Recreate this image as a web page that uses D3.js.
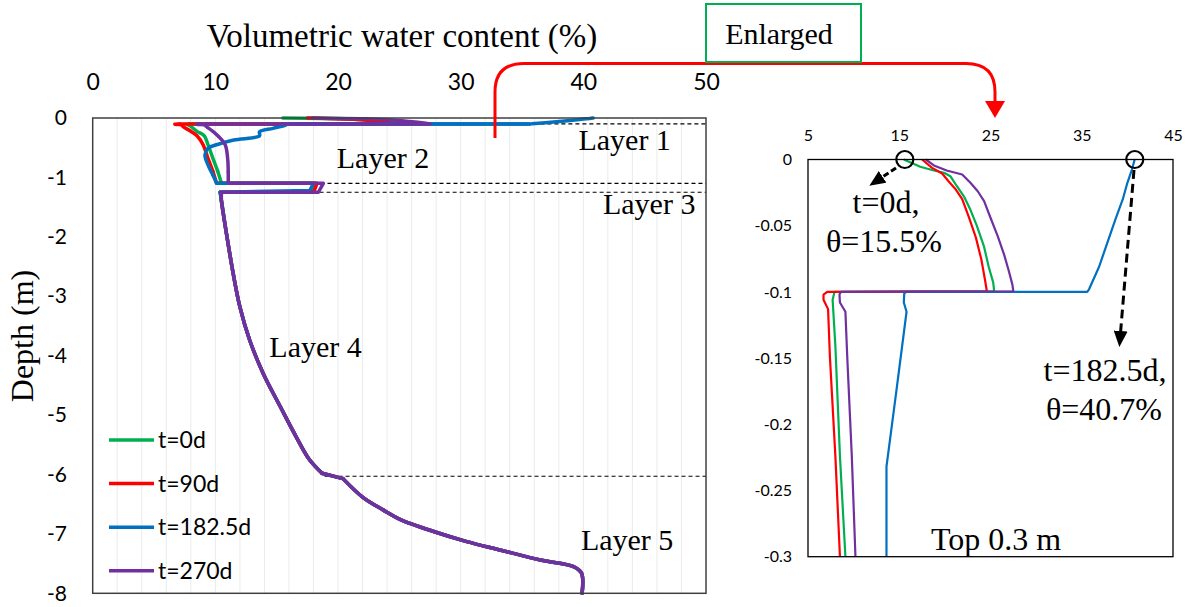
<!DOCTYPE html>
<html><head><meta charset="utf-8">
<script src="https://cdn.jsdelivr.net/npm/d3@7"></script>
<style>body{margin:0;background:#fff}svg{display:block}</style>
</head><body>
<svg id="c" width="1193" height="607"></svg>
<script>
// ---------------- DATA ----------------
const seriesNames = ["t=0d", "t=90d", "t=182.5d", "t=270d"];
const seriesColors = ["#00B050", "#FF0000", "#0070C0", "#7030A0"];

// [theta (%), depth (m)] — upper profiles (surface to bottom of layer 3)
const profile0d = [[15.5,0],[17.3,-0.0055],[18.8,-0.0083],[19.9,-0.010],[20.6,-0.0126],[21.3,-0.020],[22.1,-0.028],[22.8,-0.038],[23.5,-0.050],[24.3,-0.066],[24.8,-0.081],[25.3,-0.093],[25.4,-0.0995],[7.9,-0.1],[7.7,-0.106],[8.0,-0.141],[8.5,-0.224],[9.1,-0.3],[9.4,-0.45],[9.8,-0.68],[10.2,-0.9],[10.5,-1.1],[18.2,-1.1],[17.9,-1.25],[10.4,-1.25]];
const profile90d = [[17.5,0],[18.6,-0.0063],[19.7,-0.0106],[20.4,-0.0164],[21.2,-0.0227],[21.9,-0.030],[22.6,-0.043],[23.4,-0.059],[24.0,-0.0756],[24.4,-0.091],[24.6,-0.0995],[7.1,-0.1],[6.7,-0.102],[6.7,-0.106],[7.2,-0.113],[7.4,-0.149],[8.0,-0.224],[8.5,-0.3],[9.0,-0.45],[9.4,-0.68],[9.8,-0.9],[10.1,-1.1],[18.3,-1.1],[18.0,-1.25],[10.4,-1.25]];
const profile182d = [[40.8,0],[40.5,-0.0076],[40.0,-0.0176],[39.5,-0.030],[38.7,-0.045],[37.8,-0.063],[36.9,-0.081],[35.8,-0.098],[35.6,-0.1],[15.8,-0.1],[15.55,-0.101],[15.5,-0.108],[15.8,-0.115],[14.7,-0.174],[13.6,-0.232],[13.6,-0.3],[11.5,-0.37],[10.1,-0.45],[9.4,-0.51],[9.15,-0.62],[9.4,-0.79],[9.8,-0.96],[10.1,-1.1],[18.0,-1.1],[17.7,-1.22],[10.4,-1.25]];
const profile270d = [[17.9,0],[18.8,-0.0045],[20.2,-0.0083],[21.9,-0.0113],[22.8,-0.0176],[23.6,-0.024],[24.3,-0.0315],[25.0,-0.044],[25.8,-0.058],[26.5,-0.072],[27.0,-0.084],[27.4,-0.0945],[27.5,-0.0995],[8.6,-0.1],[8.45,-0.102],[8.5,-0.108],[9.1,-0.115],[9.3,-0.149],[9.8,-0.224],[10.2,-0.3],[10.8,-0.45],[11.0,-0.68],[11.05,-0.9],[11.05,-1.1],[18.8,-1.1],[18.4,-1.25],[10.5,-1.25]];
// shared profile below layer 3 (all times coincide)
const deepProfile = [[10.5,-1.4],[10.9,-1.94],[11.5,-2.67],[12.0,-3.18],[12.8,-3.74],[13.9,-4.3],[15.3,-4.86],[16.6,-5.37],[17.6,-5.73],[18.7,-5.98],[20.4,-6.07],[22.0,-6.38],[23.7,-6.6],[25.0,-6.75],[27.8,-6.96],[30.5,-7.13],[33.2,-7.27],[36.5,-7.44],[39.2,-7.55],[39.85,-7.66],[39.9,-8.0]];

const thetaTicksL = [0, 10, 20, 30, 40, 50];
const depthTicksL = [0, -1, -2, -3, -4, -5, -6, -7, -8];
const depthTickLabelsL = ["0", "-1", "-2", "-3", "-4", "-5", "-6", "-7", "-8"];
const thetaTicksR = [5, 15, 25, 35, 45];
const depthTicksR = [0, -0.05, -0.1, -0.15, -0.2, -0.25, -0.3];
const depthTickLabelsR = ["0", "-0.05", "-0.1", "-0.15", "-0.2", "-0.25", "-0.3"];

const layerBoundaryDepths = [-0.1, -1.1, -1.25, -6.03];
const layerBoundaryStartTheta = [36.5, 18.0, 18.5, 18.9];
const layerNames = ["Layer 1", "Layer 2", "Layer 3", "Layer 4", "Layer 5"];
const layerLabelTheta = [39.6, 19.9, 41.6, 14.4, 39.8];
const layerLabelDepth = [-0.54, -0.84, -1.62, -4.02, -7.27];

const surfaceMarks = [[15.5, 0], [40.7, 0]];

// ---------------- DRAW ----------------
const svg = d3.select("#c");
const serif = "'Liberation Serif','Times New Roman',serif";
const sans = "Lato,'Open Sans',sans-serif";
const upperProfiles = [profile0d, profile90d, profile182d, profile270d];
const profiles = upperProfiles.map(p => p.concat(deepProfile));

// Left chart
const xL = d3.scaleLinear().domain([0, 50]).range([92.7, 706]);
const yL = d3.scaleLinear().domain([0, -8]).range([118, 593.3]);

svg.append("g").selectAll("line").data(d3.range(2, 50, 2)).join("line")
  .attr("x1", d => xL(d)).attr("x2", d => xL(d))
  .attr("y1", yL(0)).attr("y2", yL(-8))
  .attr("stroke", "#ebebeb").attr("stroke-width", 1);

const axTopL = svg.append("g").attr("transform", "translate(0,90)")
  .call(d3.axisTop(xL).tickValues(thetaTicksL).tickSize(0).tickPadding(0).tickFormat(d3.format("d")));
axTopL.select(".domain").remove();
axTopL.selectAll("text").attr("font-family", sans).attr("font-size", 23).attr("fill", "#000");

const axLeftL = svg.append("g").attr("transform", "translate(67,0)")
  .call(d3.axisLeft(yL).tickValues(depthTicksL).tickSize(0).tickPadding(0).tickFormat((d, i) => depthTickLabelsL[i]));
axLeftL.select(".domain").remove();
axLeftL.selectAll("text").attr("font-family", sans).attr("font-size", 21).attr("fill", "#000");

// layer boundaries
svg.append("g").selectAll("line").data(layerBoundaryDepths).join("line")
  .attr("x1", (d, i) => xL(layerBoundaryStartTheta[i])).attr("x2", xL(50))
  .attr("y1", d => yL(d)).attr("y2", d => yL(d))
  .attr("stroke", "#000").attr("stroke-width", 1.2).attr("stroke-dasharray", "4,3");

const lineL = d3.line().x(d => xL(d[0])).y(d => yL(d[1]));
const lineLsmooth = d3.line().x(d => xL(d[0])).y(d => yL(d[1])).curve(d3.curveCatmullRom.alpha(0.5));
const deepA = deepProfile.filter(d => d[1] >= -5.98);
const deepKink = deepProfile.filter(d => d[1] <= -5.98 && d[1] >= -6.07);
const deepB = deepProfile.filter(d => d[1] <= -6.07);
const gL = svg.append("g");
upperProfiles.forEach((p, i) => {
  const shallow = p.filter(d => d[1] >= -0.1);
  const mid = p.filter(d => d[1] <= -0.1 && d[1] > -1.1);
  const layer3 = p.filter(d => d[1] <= -1.1);
  const parts = [
    [shallow, lineL],
    [mid, lineLsmooth],
    [[mid[mid.length - 1]].concat(layer3), lineL],
    [[p[p.length - 1]].concat(deepA), lineLsmooth],
    [deepKink, lineL],
    [deepB, lineLsmooth]
  ];
  parts.forEach(([pts, gen]) => {
    gL.append("path").attr("d", gen(pts)).attr("fill", "none")
      .attr("stroke", seriesColors[i]).attr("stroke-width", 3.5)
      .attr("stroke-linejoin", "round").attr("stroke-linecap", "round");
  });
});

svg.append("rect").attr("x", xL(0)).attr("y", yL(0))
  .attr("width", xL(50) - xL(0)).attr("height", yL(-8) - yL(0))
  .attr("fill", "none").attr("stroke", "#404040").attr("stroke-width", 1.5);

svg.append("g").selectAll("text").data(layerNames).join("text")
  .attr("x", (d, i) => xL(layerLabelTheta[i])).attr("y", (d, i) => yL(layerLabelDepth[i]))
  .attr("font-family", serif).attr("font-size", 30).text(d => d);

// legend
const lg = svg.append("g").selectAll("g").data(seriesNames).join("g")
  .attr("transform", (d, i) => `translate(109,${440 + i * 43.6})`);
lg.append("line").attr("x1", 0).attr("x2", 45).attr("stroke", (d, i) => seriesColors[i]).attr("stroke-width", 3.5);
lg.append("text").attr("x", 49).attr("dy", "0.36em").attr("font-family", sans).attr("font-size", 23).text(d => d);

// titles
svg.append("text").attr("x", 402).attr("y", 47).attr("text-anchor", "middle")
  .attr("font-family", serif).attr("font-size", 33).text("Volumetric water content (%)");
svg.append("text").attr("transform", "translate(33,336) rotate(-90)").attr("text-anchor", "middle")
  .attr("font-family", serif).attr("font-size", 32).text("Depth (m)");

// connector + "Enlarged"
svg.append("path").attr("d", "M495,138 V92 Q495,63.5 524,63.5 H966 Q995,63.5 995,92 V102")
  .attr("fill", "none").attr("stroke", "#FF0000").attr("stroke-width", 3);
svg.append("path").attr("d", "M985,101 L1005,101 L995,118 Z").attr("fill", "#FF0000");
svg.append("rect").attr("x", 706).attr("y", 4).attr("width", 155).attr("height", 58)
  .attr("fill", "#fff").attr("stroke", "#00B050").attr("stroke-width", 2);
svg.append("text").attr("x", 779).attr("y", 44).attr("text-anchor", "middle")
  .attr("font-family", serif).attr("font-size", 30).text("Enlarged");

// Right chart
const xR = d3.scaleLinear().domain([5, 45]).range([808, 1173]);
const yR = d3.scaleLinear().domain([0, -0.3]).range([159.5, 556.7]);

const axTopR = svg.append("g").attr("transform", "translate(0,141)")
  .call(d3.axisTop(xR).tickValues(thetaTicksR).tickSize(0).tickPadding(0).tickFormat(d3.format("d")));
axTopR.select(".domain").remove();
axTopR.selectAll("text").attr("font-family", sans).attr("font-size", 16).attr("fill", "#000");

const axLeftR = svg.append("g").attr("transform", "translate(792,0)")
  .call(d3.axisLeft(yR).tickValues(depthTicksR).tickSize(0).tickPadding(0).tickFormat((d, i) => depthTickLabelsR[i]));
axLeftR.select(".domain").remove();
axLeftR.selectAll("text").attr("font-family", sans).attr("font-size", 16).attr("fill", "#000");

svg.append("clipPath").attr("id", "clipR").append("rect")
  .attr("x", xR(5)).attr("y", yR(0) - 2).attr("width", xR(45) - xR(5)).attr("height", yR(-0.3) - yR(0) + 2);
const lineR = d3.line().x(d => xR(d[0])).y(d => yR(d[1]));
svg.append("g").attr("clip-path", "url(#clipR)").selectAll("path").data(profiles).join("path")
  .attr("d", lineR).attr("fill", "none")
  .attr("stroke", (d, i) => seriesColors[i]).attr("stroke-width", 2.2).attr("stroke-linejoin", "round");

svg.append("rect").attr("x", xR(5)).attr("y", yR(0))
  .attr("width", xR(45) - xR(5)).attr("height", yR(-0.3) - yR(0))
  .attr("fill", "none").attr("stroke", "#000").attr("stroke-width", 1.3);

svg.append("g").selectAll("circle").data(surfaceMarks).join("circle")
  .attr("cx", d => xR(d[0]) + 1).attr("cy", d => yR(d[1]))
  .attr("r", 8.5).attr("fill", "none").attr("stroke", "#000").attr("stroke-width", 2.2);

// dashed arrows
const defs = svg.append("defs");
defs.append("marker").attr("id", "ah").attr("markerUnits", "userSpaceOnUse")
  .attr("markerWidth", 16).attr("markerHeight", 14).attr("refX", 2).attr("refY", 7).attr("orient", "auto")
  .append("path").attr("d", "M0,0 L16,7 L0,14 Z").attr("fill", "#000");
svg.append("line").attr("x1", 896).attr("y1", 168).attr("x2", 881).attr("y2", 178)
  .attr("stroke", "#000").attr("stroke-width", 3).attr("stroke-dasharray", "6,3").attr("marker-end", "url(#ah)");
svg.append("line").attr("x1", 1134).attr("y1", 170).attr("x2", 1120.5).attr("y2", 333)
  .attr("stroke", "#000").attr("stroke-width", 3).attr("stroke-dasharray", "9,5").attr("marker-end", "url(#ah)");

const ann = [["t=0d,", 886, 213], ["θ=15.5%", 884, 252], ["t=182.5d,", 1105, 381], ["θ=40.7%", 1104, 420], ["Top 0.3 m", 996, 550]];
svg.append("g").selectAll("text").data(ann).join("text")
  .attr("x", d => d[1]).attr("y", d => d[2]).attr("text-anchor", "middle")
  .attr("font-family", serif).attr("font-size", 32).text(d => d[0]);
</script>
</body></html>
